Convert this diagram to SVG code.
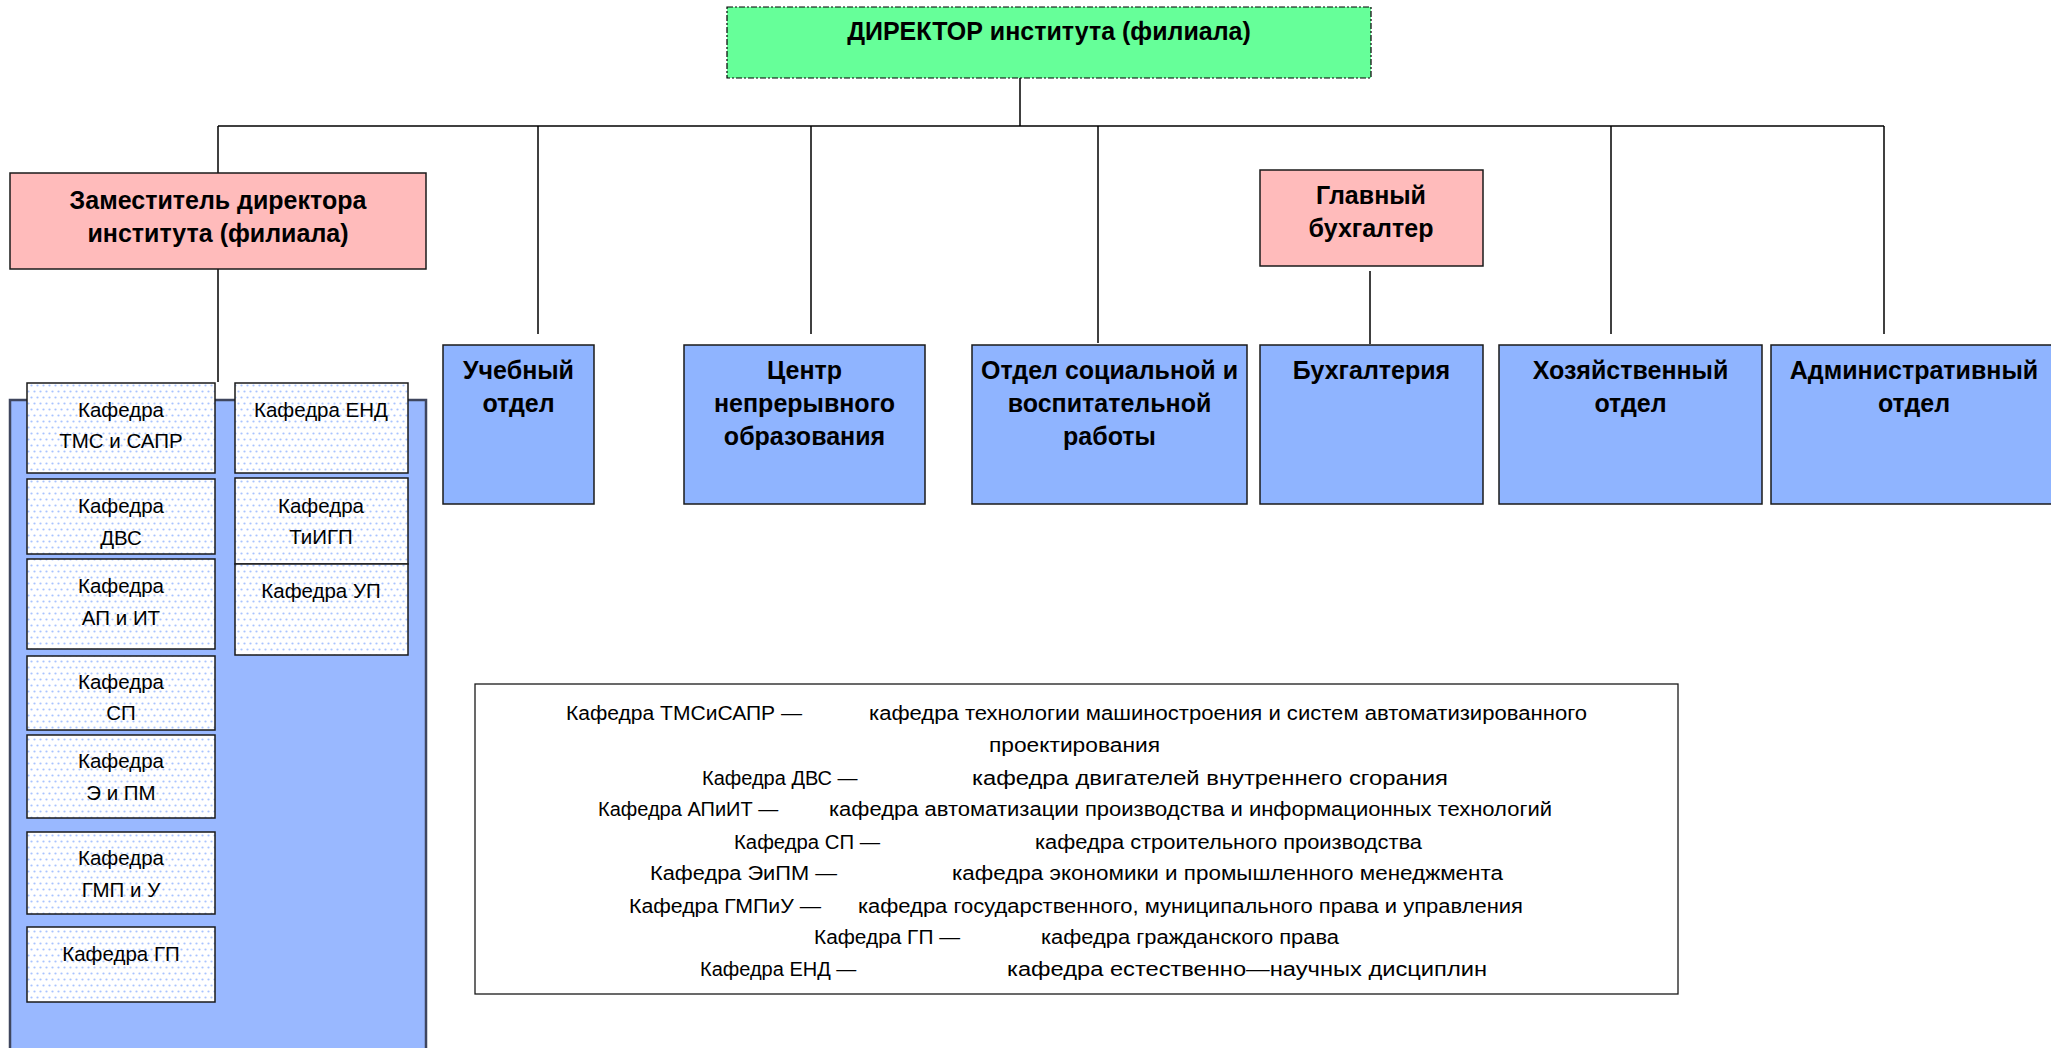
<svg xmlns="http://www.w3.org/2000/svg" width="2051" height="1048" viewBox="0 0 2051 1048">
<style>
text{font-family:"Liberation Sans",Arial,sans-serif;fill:#000}
.b{font-weight:bold;font-size:25px;text-anchor:middle}
.k{font-size:20.5px;text-anchor:middle}
.l{font-size:20px}
.dept{fill:#8FB4FF;stroke:#1a1a1a;stroke-width:1.5}
.pink{fill:#FFBBBB;stroke:#1a1a1a;stroke-width:1.5}
.kaf{fill:url(#dots);stroke:#1a1a1a;stroke-width:1.5}
.conn line{stroke:#000;stroke-width:1.5}
</style>
<defs>
<pattern id="dots" width="6" height="12" patternUnits="userSpaceOnUse">
<rect width="6" height="12" fill="#fff"/>
<circle cx="1.5" cy="1.5" r="1.1" fill="#A9C4FF"/>
<circle cx="4.5" cy="7.5" r="1.1" fill="#A9C4FF"/>
</pattern>
</defs>
<rect width="2051" height="1048" fill="#fff"/>

<g id="connectors" class="conn">
<line x1="1020" y1="78" x2="1020" y2="126"/>
<line x1="218" y1="126" x2="1884" y2="126"/>
<line x1="218" y1="126" x2="218" y2="173"/>
<line x1="538" y1="126" x2="538" y2="334"/>
<line x1="811" y1="126" x2="811" y2="334"/>
<line x1="1098" y1="126" x2="1098" y2="343"/>
<line x1="1611" y1="126" x2="1611" y2="334"/>
<line x1="1884" y1="126" x2="1884" y2="334"/>
<line x1="218" y1="269" x2="218" y2="382"/>
<line x1="1370" y1="271" x2="1370" y2="344"/>
</g>

<g id="director">
<rect x="727" y="7" width="644" height="71" fill="#66FF99" stroke="#000" stroke-width="1.2" stroke-dasharray="6,2,2,2"/>
<text class="b" x="1049" y="40">ДИРЕКТОР института (филиала)</text>
</g>

<g id="deputy">
<rect class="pink" x="10" y="173" width="416" height="96"/>
<text class="b" x="218" y="209">Заместитель директора</text>
<text class="b" x="218" y="242">института (филиала)</text>
</g>

<g id="chief-accountant">
<rect class="pink" x="1260" y="170" width="223" height="96"/>
<text class="b" x="1371" y="204">Главный</text>
<text class="b" x="1371" y="237">бухгалтер</text>
</g>

<g id="kafedry-container">
<rect x="10" y="400" width="416" height="660" fill="#99B8FF" stroke="#3F465E" stroke-width="2.5"/>
</g>

<g id="kaf-tms">
<rect class="kaf" x="27" y="383" width="188" height="90"/>
<text class="k" x="121" y="417">Кафедра</text>
<text class="k" x="121" y="448">ТМС и САПР</text>
</g>
<g id="kaf-dvs">
<rect class="kaf" x="27" y="479" width="188" height="75"/>
<text class="k" x="121" y="513">Кафедра</text>
<text class="k" x="121" y="545">ДВС</text>
</g>
<g id="kaf-apit">
<rect class="kaf" x="27" y="559" width="188" height="90"/>
<text class="k" x="121" y="593">Кафедра</text>
<text class="k" x="121" y="625">АП и ИТ</text>
</g>
<g id="kaf-sp">
<rect class="kaf" x="27" y="656" width="188" height="74"/>
<text class="k" x="121" y="689">Кафедра</text>
<text class="k" x="121" y="720">СП</text>
</g>
<g id="kaf-epm">
<rect class="kaf" x="27" y="735" width="188" height="83"/>
<text class="k" x="121" y="768">Кафедра</text>
<text class="k" x="121" y="800">Э и ПМ</text>
</g>
<g id="kaf-gmpu">
<rect class="kaf" x="27" y="832" width="188" height="82"/>
<text class="k" x="121" y="865">Кафедра</text>
<text class="k" x="121" y="897">ГМП и У</text>
</g>
<g id="kaf-gp">
<rect class="kaf" x="27" y="927" width="188" height="75"/>
<text class="k" x="121" y="961">Кафедра ГП</text>
</g>
<g id="kaf-end">
<rect class="kaf" x="235" y="383" width="173" height="90"/>
<text class="k" x="321" y="417">Кафедра ЕНД</text>
</g>
<g id="kaf-tiigp">
<rect class="kaf" x="235" y="478" width="173" height="86"/>
<text class="k" x="321" y="513">Кафедра</text>
<text class="k" x="321" y="544">ТиИГП</text>
</g>
<g id="kaf-up">
<rect class="kaf" x="235" y="564" width="173" height="91"/>
<text class="k" x="321" y="598">Кафедра УП</text>
</g>

<g id="uchebny">
<rect class="dept" x="443" y="345" width="151" height="159"/>
<text class="b" x="518.5" y="379">Учебный</text>
<text class="b" x="518.5" y="412">отдел</text>
</g>
<g id="centr">
<rect class="dept" x="684" y="345" width="241" height="159"/>
<text class="b" x="804.5" y="379">Центр</text>
<text class="b" x="804.5" y="412">непрерывного</text>
<text class="b" x="804.5" y="445">образования</text>
</g>
<g id="social">
<rect class="dept" x="972" y="345" width="275" height="159"/>
<text class="b" x="1109.5" y="379">Отдел социальной и</text>
<text class="b" x="1109.5" y="412">воспитательной</text>
<text class="b" x="1109.5" y="445">работы</text>
</g>
<g id="buhgalteria">
<rect class="dept" x="1260" y="345" width="223" height="159"/>
<text class="b" x="1371.5" y="379">Бухгалтерия</text>
</g>
<g id="hoz">
<rect class="dept" x="1499" y="345" width="263" height="159"/>
<text class="b" x="1630.5" y="379">Хозяйственный</text>
<text class="b" x="1630.5" y="412">отдел</text>
</g>
<g id="admin">
<rect class="dept" x="1771" y="345" width="290" height="159"/>
<text class="b" x="1914" y="379">Административный</text>
<text class="b" x="1914" y="412">отдел</text>
</g>

<g id="legend">
<rect x="475" y="684" width="1203" height="310" fill="#fff" stroke="#1a1a1a" stroke-width="1.3"/>
<text class="l" x="566" y="720" textLength="236" lengthAdjust="spacingAndGlyphs">Кафедра ТМСиСАПР —</text>
<text class="l" x="869" y="720" textLength="718" lengthAdjust="spacingAndGlyphs">кафедра технологии машиностроения и систем автоматизированного</text>
<text class="l" x="989" y="752" textLength="171" lengthAdjust="spacingAndGlyphs">проектирования</text>
<text class="l" x="702" y="785">Кафедра ДВС —</text>
<text class="l" x="972" y="785" textLength="476" lengthAdjust="spacingAndGlyphs">кафедра двигателей внутреннего сгорания</text>
<text class="l" x="598" y="816">Кафедра АПиИТ —</text>
<text class="l" x="829" y="816" textLength="723" lengthAdjust="spacingAndGlyphs">кафедра автоматизации производства и информационных технологий</text>
<text class="l" x="734" y="849" textLength="146" lengthAdjust="spacingAndGlyphs">Кафедра СП —</text>
<text class="l" x="1035" y="849" textLength="387" lengthAdjust="spacingAndGlyphs">кафедра строительного производства</text>
<text class="l" x="650" y="880" textLength="187" lengthAdjust="spacingAndGlyphs">Кафедра ЭиПМ —</text>
<text class="l" x="952" y="880" textLength="551" lengthAdjust="spacingAndGlyphs">кафедра экономики и промышленного менеджмента</text>
<text class="l" x="629" y="913" textLength="192" lengthAdjust="spacingAndGlyphs">Кафедра ГМПиУ —</text>
<text class="l" x="858" y="913" textLength="665" lengthAdjust="spacingAndGlyphs">кафедра государственного, муниципального права и управления</text>
<text class="l" x="814" y="944" textLength="146" lengthAdjust="spacingAndGlyphs">Кафедра ГП —</text>
<text class="l" x="1041" y="944" textLength="298" lengthAdjust="spacingAndGlyphs">кафедра гражданского права</text>
<text class="l" x="700" y="976">Кафедра ЕНД —</text>
<text class="l" x="1007" y="976" textLength="480" lengthAdjust="spacingAndGlyphs">кафедра естественно—научных дисциплин</text>
</g>
</svg>
